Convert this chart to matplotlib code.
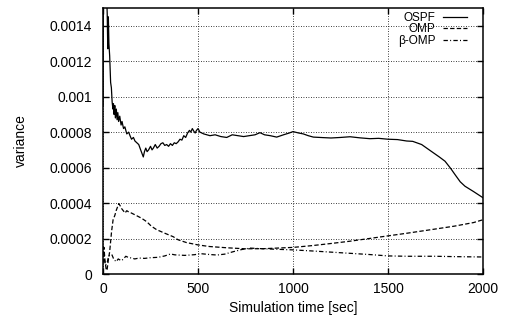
import matplotlib
matplotlib.use("Agg")
import matplotlib.pyplot as plt
import numpy as np

plt.rcParams['font.family'] = ['Liberation Sans', 'DejaVu Sans']

# OSPF variance (x1e-4)
ospf_t = [0, 4, 10, 18, 22, 25, 28, 31, 35, 40, 44, 48, 52, 55, 58, 62, 65, 70, 74, 78,
          82, 88, 95, 100, 108, 115, 125, 135, 142, 150, 160, 168, 178, 188, 198, 205,
          212, 218, 225, 232, 240, 250, 258, 265, 275, 285, 295, 305, 315, 325, 335,
          345, 355, 365, 375, 385, 395, 405, 415, 425, 435, 445, 455, 462, 470, 478,
          485, 492, 500, 510, 530, 563, 590, 620, 651, 680, 710, 740, 770, 800, 826,
          850, 880, 914, 950, 980, 1000, 1030, 1054, 1080, 1107, 1160, 1200, 1250,
          1300, 1350, 1405, 1450, 1500, 1550, 1598, 1630, 1677, 1730, 1770, 1800,
          1830, 1853, 1880, 1905, 1950, 2000]
ospf_v = [9.5, 30, 20, 16, 14.7, 12.7, 14.5, 13.0, 12.3, 10.8, 10.5, 9.7, 9.3, 9.6, 9.0,
          9.5, 8.8, 9.3, 8.7, 9.1, 8.6, 8.9, 8.4, 8.6, 8.2, 8.3, 7.9, 8.0, 7.8, 7.6, 7.7,
          7.5, 7.4, 7.3, 7.0, 6.8, 6.6, 6.9, 7.1, 6.9, 7.0, 7.2, 7.0, 7.1, 7.3, 7.1, 7.2,
          7.35, 7.4, 7.25, 7.3, 7.2, 7.35, 7.25, 7.4, 7.35, 7.45, 7.6, 7.55, 7.8, 7.7,
          7.95, 8.1, 8.0, 8.2, 8.05, 7.95, 8.1, 8.2, 8.0, 7.9, 7.8, 7.85, 7.75, 7.7,
          7.85, 7.8, 7.75, 7.8, 7.85, 7.97, 7.85, 7.8, 7.72, 7.85, 7.95, 8.03, 7.95,
          7.9, 7.8, 7.72, 7.69, 7.67, 7.7, 7.74, 7.68, 7.63, 7.65, 7.6, 7.58, 7.5, 7.48,
          7.3, 6.9, 6.6, 6.36, 5.95, 5.6, 5.2, 4.95, 4.65, 4.3]

# OMP variance (x1e-4)
omp_t = [0, 5, 10, 16, 21, 28, 35, 45, 53, 62, 70, 83, 90, 97, 108, 116, 125, 135, 149,
         175, 202, 230, 254, 282, 325, 370, 395, 440, 500, 560, 650, 750, 850, 1000,
         1100, 1200, 1300, 1400, 1500, 1600, 1745, 1850, 1950, 2000]
omp_v = [1.0, 1.5, 0.8, 0.3, 0.2, 0.8, 1.26, 2.4, 3.06, 3.3, 3.6, 3.97, 3.85, 3.7, 3.55,
         3.44, 3.57, 3.5, 3.44, 3.3, 3.15, 2.95, 2.7, 2.5, 2.3, 2.1, 1.93, 1.77, 1.64,
         1.55, 1.48, 1.42, 1.43, 1.5, 1.6, 1.72, 1.85, 2.0, 2.15, 2.3, 2.53, 2.7, 2.9,
         3.06]

# beta-OMP variance (x1e-4)
bomp_t = [0, 5, 12, 21, 30, 40, 47, 58, 70, 80, 88, 95, 105, 120, 132, 150, 167, 190,
          219, 250, 290, 325, 355, 378, 430, 483, 510, 560, 600, 640, 686, 730, 774,
          850, 1000, 1100, 1250, 1400, 1500, 1600, 1745, 1850, 2000]
bomp_v = [0.6, 1.0, 0.5, 0.6, 1.02, 1.1, 1.08, 0.8, 0.7, 0.85, 0.8, 0.75, 0.82, 1.0,
          0.94, 0.9, 0.85, 0.9, 0.88, 0.92, 0.94, 1.02, 1.13, 1.08, 1.05, 1.09, 1.15,
          1.1, 1.07, 1.12, 1.26, 1.38, 1.46, 1.42, 1.36, 1.3, 1.2, 1.1, 1.02, 1.0, 1.0,
          0.98, 0.96]

x_ticks = [0, 500, 1000, 1500, 2000]
y_ticks = [0, 0.0002, 0.0004, 0.0006, 0.0008, 0.001, 0.0012, 0.0014]
y_labels = ['0', '0.0002', '0.0004', '0.0006', '0.0008', '0.001', '0.0012', '0.0014']

fig = plt.figure(figsize=(5.07, 3.16), dpi=100)
ax = fig.add_axes([0.2032, 0.1329, 0.7495, 0.8418])

scale = 1e-4
ax.plot(ospf_t, np.array(ospf_v) * scale, color='black', lw=0.9, ls='-', label='OSPF')
ax.plot(omp_t, np.array(omp_v) * scale, color='black', lw=0.9, ls=(0, (3.5, 1.8)), label='OMP')
ax.plot(bomp_t, np.array(bomp_v) * scale, color='black', lw=0.9,
        ls=(0, (3.5, 1.8, 0.8, 1.8)), label='\u03b2-OMP')

ax.set_xlim(0, 2000)
ax.set_ylim(0, 0.0015)
ax.set_xticks(x_ticks)
ax.set_yticks(y_ticks)
ax.set_yticklabels(y_labels)
ax.tick_params(direction='in', length=4, width=1, top=True, right=True, labelsize=10)
ax.tick_params(axis='y', pad=8)
ax.tick_params(axis='x', pad=6)
ax.grid(True, color='black', ls=(0, (1, 2)), lw=0.6)
for s in ax.spines.values():
    s.set_linewidth(1.1)

ax.set_xlabel('Simulation time [sec]', fontsize=10, labelpad=3)
ax.set_ylabel('variance', fontsize=10, labelpad=15)

ax.legend(loc='upper right', bbox_to_anchor=(0.958, 0.985), frameon=False,
          markerfirst=False, fontsize=8.5, handlelength=2.0, handletextpad=0.7,
          labelspacing=-0.05, borderaxespad=0.0, borderpad=0.0)

fig.savefig('out.png', dpi=100)
